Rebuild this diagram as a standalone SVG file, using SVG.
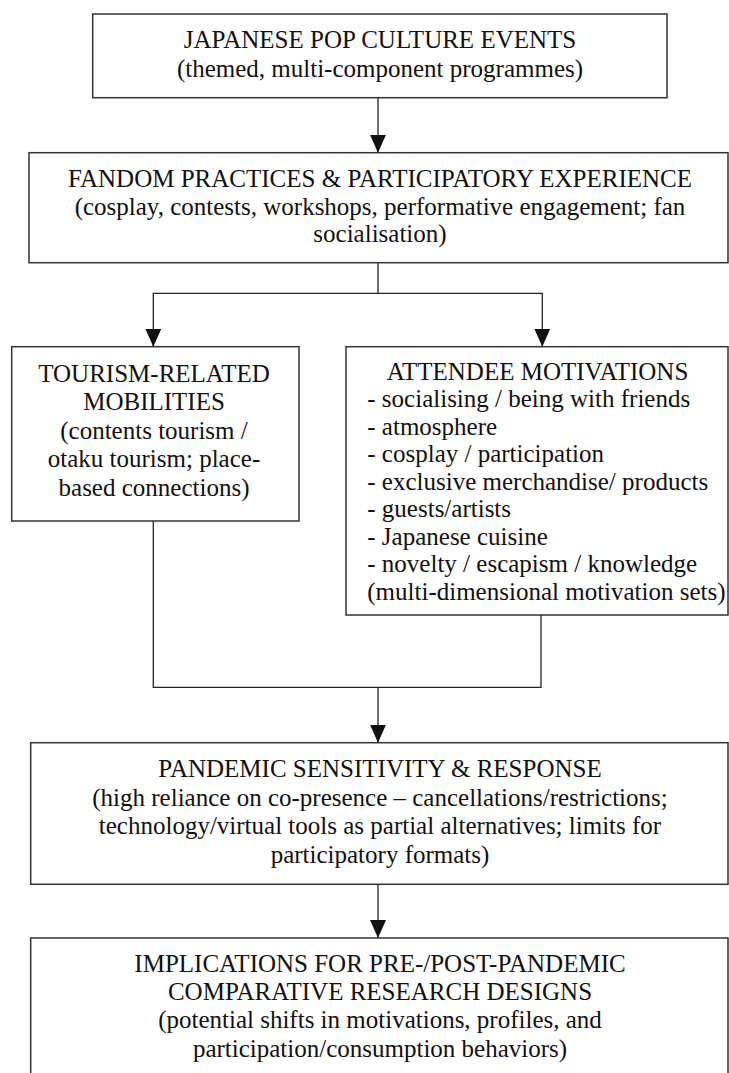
<svg xmlns="http://www.w3.org/2000/svg" width="729" height="1073" viewBox="0 0 729 1073">
<style>
.box{fill:#fff;stroke:#333;stroke-width:1.5}
.t{font-family:'Liberation Serif','Times New Roman',Times,'Nimbus Roman','DejaVu Serif',serif;font-size:25px;fill:#111}
.c{text-anchor:middle}
.ln{fill:none;stroke:#222;stroke-width:1.3}
</style>
<defs>
<marker id="ah" markerUnits="userSpaceOnUse" viewBox="0 0 18 16" refX="18" refY="8" markerWidth="18" markerHeight="16" orient="auto">
<path d="M0,0 L18,8 L0,16 z" fill="#111"/>
</marker>
</defs>
<rect width="729" height="1073" fill="#fff"/>
<g id="connectors">
<line class="ln" x1="378" y1="97.7" x2="378" y2="152.7" marker-end="url(#ah)"/>
<polyline class="ln" points="378,262.7 378,293.3 153.3,293.3 153.3,346.7" marker-end="url(#ah)"/>
<polyline class="ln" points="378,293.3 542.3,293.3 542.3,346.7" marker-end="url(#ah)"/>
<polyline class="ln" points="153.3,521 153.3,687.3 541,687.3 541,615"/>
<line class="ln" x1="378" y1="687.3" x2="378" y2="742.7" marker-end="url(#ah)"/>
<line class="ln" x1="378" y1="884.3" x2="378" y2="938" marker-end="url(#ah)"/>
</g>
<g id="node-events">
<rect class="box" x="92.7" y="14" width="574.3" height="83.7"/>
<text class="t c" x="380" y="48">JAPANESE POP CULTURE EVENTS</text>
<text class="t c" x="380" y="77">(themed, multi-component programmes)</text>
</g>
<g id="node-fandom">
<rect class="box" x="29" y="152.7" width="699" height="110"/>
<text class="t c" x="380" y="187">FANDOM PRACTICES &amp; PARTICIPATORY EXPERIENCE</text>
<text class="t c" x="380" y="214.5">(cosplay, contests, workshops, performative engagement; fan</text>
<text class="t c" x="380" y="242">socialisation)</text>
</g>
<g id="node-tourism">
<rect class="box" x="11.7" y="346.7" width="287.3" height="174.3"/>
<text class="t c" x="154" y="381.7">TOURISM-RELATED</text>
<text class="t c" x="154" y="410">MOBILITIES</text>
<text class="t c" x="154" y="438.5">(contents tourism /</text>
<text class="t c" x="154" y="467">otaku tourism; place-</text>
<text class="t c" x="154" y="495.5">based connections)</text>
</g>
<g id="node-motivations">
<rect class="box" x="346" y="346.7" width="382" height="268.3"/>
<text class="t c" x="537.5" y="380">ATTENDEE MOTIVATIONS</text>
<text class="t" x="367.3" y="407.3">- socialising / being with friends</text>
<text class="t" x="367.3" y="435">- atmosphere</text>
<text class="t" x="367.3" y="462.3">- cosplay / participation</text>
<text class="t" x="367.3" y="490">- exclusive merchandise/ products</text>
<text class="t" x="367.3" y="517.3">- guests/artists</text>
<text class="t" x="367.3" y="545">- Japanese cuisine</text>
<text class="t" x="367.3" y="572.3">- novelty / escapism / knowledge</text>
<text class="t" x="367.3" y="600">(multi-dimensional motivation sets)</text>
</g>
<g id="node-pandemic">
<rect class="box" x="30.7" y="742.7" width="697.3" height="141.6"/>
<text class="t c" x="380" y="776.7">PANDEMIC SENSITIVITY &amp; RESPONSE</text>
<text class="t c" x="380" y="805.5">(high reliance on co-presence – cancellations/restrictions;</text>
<text class="t c" x="380" y="834.3">technology/virtual tools as partial alternatives; limits for</text>
<text class="t c" x="380" y="863">participatory formats)</text>
</g>
<g id="node-implications">
<rect class="box" x="30.7" y="938" width="697.3" height="145"/>
<text class="t c" x="380" y="971.7">IMPLICATIONS FOR PRE-/POST-PANDEMIC</text>
<text class="t c" x="380" y="1000">COMPARATIVE RESEARCH DESIGNS</text>
<text class="t c" x="380" y="1028.3">(potential shifts in motivations, profiles, and</text>
<text class="t c" x="380" y="1056.7">participation/consumption behaviors)</text>
</g>
</svg>
